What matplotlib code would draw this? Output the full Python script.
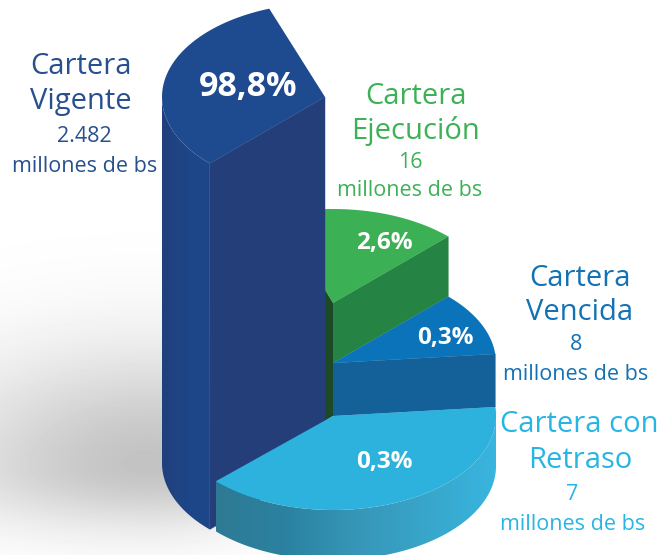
import numpy as np
import matplotlib
matplotlib.use("Agg")
import matplotlib.pyplot as plt
from matplotlib.patches import Polygon
from matplotlib.colors import LinearSegmentedColormap

# Data
names = ["Cartera\nVigente", "Cartera\nEjecución", "Cartera\nVencida", "Cartera con\nRetraso"]
percent_labels = ["98,8%", "2,6%", "0,3%", "0,3%"]
amounts = ["2.482", "16", "8", "7"]
unit = "millones de bs"

# Slice boundaries on the (unprojected) pie, degrees
theta_start = [110, 45, 5.5, -136]
theta_end = [225, 110, 45, 5.5]

# Projected geometry, in pixels
centers_x = [325, 333, 333, 333]
centers_y = [97, 303, 363, 416]
depths = [366, 60, 53, 50]
RX, RY = 163, 94

top_colors = ["#1e4a8f", "#3cb054", "#0a73b9", "#2db1dd"]
face_colors = ["#243e7a", "#258443", "#14619a", "#2b8fb0"]
text_colors = ["#28508f", "#3eb157", "#1272b5", "#29b5e3"]

name_pos = [[(81, 66), (81, 102)], [(416, 96), (416, 131)], [(580, 278), (580, 312)], [(579, 425), (580, 461)]]
amount_pos = [(84, 136), (410, 163), (576, 344), (572, 494)]
unit_pos = [(85, 166), (410, 191), (576, 374), (573, 524)]
pct_pos = [(248, 87), (384, 243), (445, 338), (384, 462)]
pct_size = [24.5, 17.5, 17.5, 17.5]

plt.rcParams["font.family"] = ["Open Sans", "DejaVu Sans"]
W, H = 660, 555
fig = plt.figure(figsize=(W / 100, H / 100), dpi=100)
ax = fig.add_axes([0, 0, 1, 1])


def arc(i, t1, t2, n=120, dy=0):
    t = np.radians(np.linspace(t1, t2, n))
    return np.column_stack([centers_x[i] + RX * np.cos(t), centers_y[i] - RY * np.sin(t) + dy])


def top(i, z):
    pts = np.vstack([[(centers_x[i], centers_y[i])], arc(i, theta_start[i], theta_end[i])])
    return Polygon(pts, closed=True, fc=top_colors[i], ec="none", zorder=z)


def radial(i, theta, z):
    t = np.radians(theta)
    x0, y0 = centers_x[i], centers_y[i]
    x1, y1 = x0 + RX * np.cos(t), y0 - RY * np.sin(t)
    d = depths[i]
    return Polygon([(x0, y0), (x1, y1), (x1, y1 + d), (x0, y0 + d)], closed=True,
                   fc=face_colors[i], ec=face_colors[i], lw=0.3, zorder=z)


def curved_side(i, t1, t2, stops, z):
    upper = arc(i, t1, t2)
    lower = arc(i, t2, t1, dy=depths[i])
    poly = Polygon(np.vstack([upper, lower]), closed=True, fc="none", ec="none",
                   transform=ax.transData)
    ax.add_patch(poly)
    cmap = LinearSegmentedColormap.from_list("s", stops)
    xmin, xmax = upper[:, 0].min(), upper[:, 0].max()
    ymin, ymax = upper[:, 1].min(), lower[:, 1].max()
    im = ax.imshow(np.linspace(0, 1, 256)[None, :], cmap=cmap, aspect="auto",
                   extent=(xmin, xmax, ymax, ymin), zorder=z, interpolation="bilinear")
    im.set_clip_path(poly)


# Soft shadow behind the pie
yy, xx = np.mgrid[0:H, 0:W]
dx = xx - 150.0
dy = yy - 465.0
sx = np.where(dx < 0, 210.0, 120.0)
sy = np.where(dy < 0, 115.0, 62.0)
shade = 1 - 0.235 * np.exp(-(dx / sx) ** 2 - (dy / sy) ** 2)
ax.imshow(shade, cmap="gray", vmin=0, vmax=1, extent=(0, W, H, 0), aspect="auto", zorder=0)

# Green slice
ax.add_patch(radial(1, 45, 5))
ax.add_patch(top(1, 6))
ax.add_patch(Polygon([(325, 290), (333, 303), (333, 416), (325, 421)], closed=True,
                     fc="#1c4a26", ec="none", zorder=7))

# Medium blue slice
ax.add_patch(radial(2, 5.5, 6))
ax.add_patch(top(2, 7))

# Dark blue slice
curved_side(0, 180, 225, ["#203f7e", "#1f4484", "#1c4789", "#1e4688"], 8)
ax.add_patch(radial(0, 225, 9))
ax.add_patch(top(0, 14))

# Light blue slice
curved_side(3, -136, 0, ["#2f7a94", "#2a82a0", "#3796b8", "#38a6ca", "#38b5e0"], 15)
ax.add_patch(Polygon(np.vstack([[(centers_x[3] + RX, 416)], arc(3, 0, 5.5, 10),
                                arc(3, 5.5, 0, 10, dy=depths[3])]),
                     closed=True, fc="#38b5e0", ec="none", zorder=15))
ax.add_patch(top(3, 16))

# Text
for i in range(4):
    lines = names[i].split("\n")
    for line, (x, y) in zip(lines, name_pos[i]):
        ax.text(x, y, line, color=text_colors[i], fontsize=21, ha="center", va="center", zorder=20)
    ax.text(*amount_pos[i], amounts[i], color=text_colors[i], fontsize=15.5, ha="center", va="center", zorder=20)
    ax.text(*unit_pos[i], unit, color=text_colors[i], fontsize=15.5, ha="center", va="center", zorder=20)
    ax.text(*pct_pos[i], percent_labels[i], color="white", fontsize=pct_size[i], fontweight="bold",
            ha="center", va="center", zorder=21)

ax.set_xlim(0, W)
ax.set_ylim(H, 0)
ax.axis("off")
fig.savefig("out.png", dpi=100, facecolor="white")
